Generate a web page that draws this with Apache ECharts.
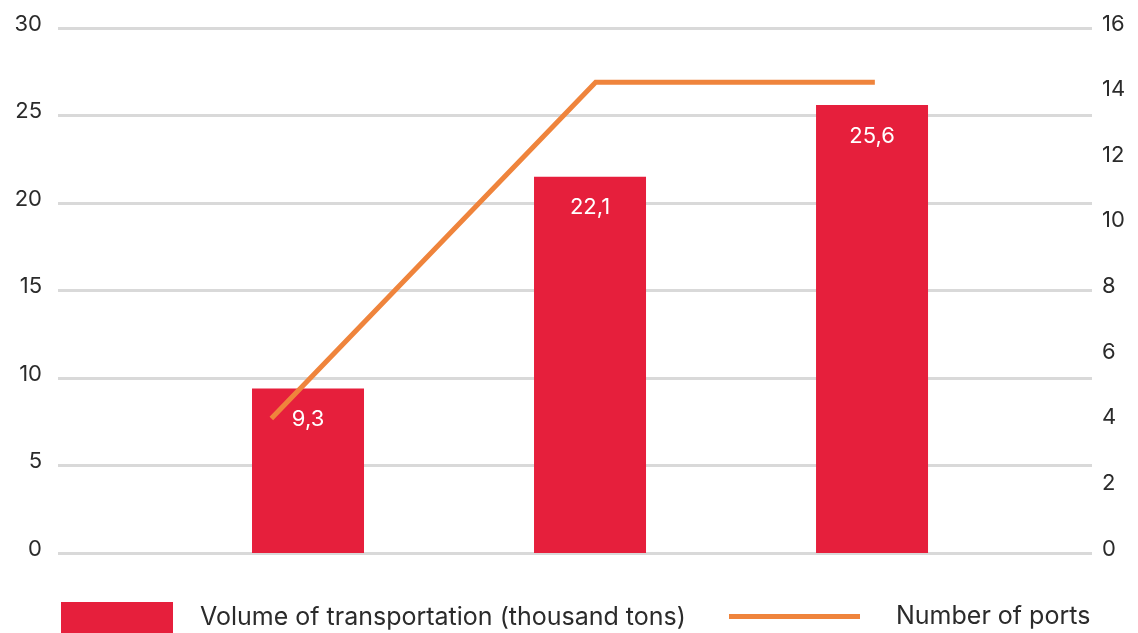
<!DOCTYPE html>
<html>
<head>
<meta charset="utf-8">
<script src="https://cdn.jsdelivr.net/npm/echarts@6/dist/echarts.min.js"></script>
<style>
html,body{margin:0;padding:0;background:#fff;}
#chart{width:1138px;height:633px;}
</style>
</head>
<body>
<div id="chart"></div>
<script>
// Data
var barNames = ['Volume of transportation (thousand tons)'];
var lineNames = ['Number of ports'];
var barPositions = [1, 2, 3];
var barValues = [9.4, 21.5, 25.6];
var barLabels = ['9,3', '22,1', '25,6'];
var linePositions = [0.87, 2.02, 3.01];
var lineValues = [4.1, 14.35, 14.35];
var leftTicks = {min: 0, max: 30, interval: 5};
var rightTicks = {min: 0, max: 16, interval: 2};

var FONT = 'Inter, "Open Sans", sans-serif';
var TEXT = '#2b2b2b';
var RED = '#E61F3C';
var ORANGE = '#EF843C';

var barData = barPositions.map(function (x, i) { return [x, barValues[i]]; });
var lineData = linePositions.map(function (x, i) { return [x, lineValues[i]]; });

var chart = echarts.init(document.getElementById('chart'), null, {renderer: 'canvas'});
chart.setOption({
  animation: false,
  textStyle: {fontFamily: FONT},
  grid: {left: 58, right: 46, top: 28, bottom: 80, containLabel: false},
  legend: [
    {
      data: [barNames[0]], left: 61, top: 602, padding: 0,
      itemWidth: 112, itemHeight: 31, icon: 'rect',
      textStyle: {fontFamily: FONT, fontSize: 25, color: TEXT, padding: [0, 0, 0, 22]},
      selectedMode: false
    },
    {
      data: [{name: lineNames[0], icon: 'rect', itemStyle: {color: ORANGE}}], left: 729, top: 604, padding: 0,
      itemWidth: 131, itemHeight: 5,
      textStyle: {fontFamily: FONT, fontSize: 25, color: TEXT, padding: [0, 0, 0, 31]},
      selectedMode: false
    }
  ],
  xAxis: {
    type: 'value', min: 0.1135, max: 3.78,
    show: false, splitLine: {show: false}
  },
  yAxis: [
    {
      type: 'value', min: leftTicks.min, max: leftTicks.max, interval: leftTicks.interval,
      axisLine: {show: false}, axisTick: {show: false},
      axisLabel: {fontFamily: FONT, fontSize: 22, color: TEXT, margin: 16, verticalAlign: 'bottom', lineHeight: 8},
      splitLine: {lineStyle: {color: '#d9d9d9', width: 3}}
    },
    {
      type: 'value', min: rightTicks.min, max: rightTicks.max, interval: rightTicks.interval,
      axisLine: {show: false}, axisTick: {show: false},
      axisLabel: {fontFamily: FONT, fontSize: 22, color: TEXT, margin: 10, verticalAlign: 'bottom', lineHeight: 8},
      splitLine: {show: false}
    }
  ],
  series: [
    {
      name: barNames[0], type: 'bar', yAxisIndex: 0,
      data: barData, barWidth: 112,
      itemStyle: {color: RED},
      label: {
        show: true, position: 'insideTop', distance: 20,
        color: '#fff', fontFamily: FONT, fontSize: 22,
        formatter: function (p) { return barLabels[p.dataIndex]; }
      },
      z: 2
    },
    {
      name: lineNames[0], type: 'line', yAxisIndex: 1,
      data: lineData, symbol: 'none',
      lineStyle: {color: ORANGE, width: 5, cap: 'butt', join: 'miter'},
      itemStyle: {color: ORANGE},
      z: 3
    }
  ]
});
</script>
</body>
</html>
